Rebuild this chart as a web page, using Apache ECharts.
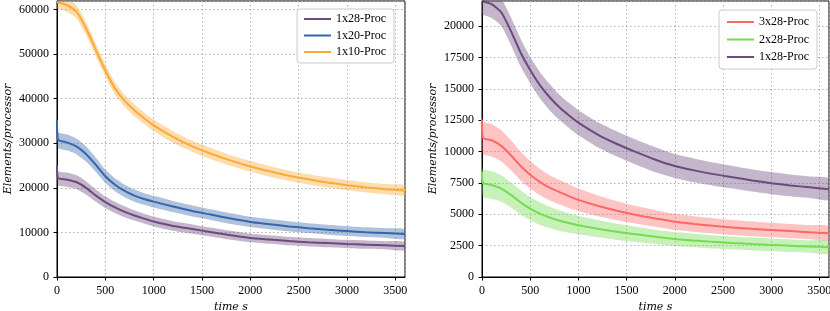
<!DOCTYPE html>
<html>
<head>
<meta charset="utf-8">
<script src="https://cdn.jsdelivr.net/npm/echarts@6/dist/echarts.min.js"></script>
<style>
html,body{margin:0;padding:0;background:#fff;}
#c{width:830px;height:311px;}
</style>
</head>
<body>
<div id="c"></div>
<script>
// time points (s)
const times = [0, 10, 100, 200, 300, 400, 500, 600, 700, 800, 900, 1000,
  1200, 1400, 1600, 1800, 2000, 2200, 2400, 2600, 2800, 3000, 3200, 3400, 3600];

// Left panel: mean curve and half-width of shaded band
const left1x28 = [25100, 22200, 21850, 21300, 20000, 18300, 16800, 15600, 14600, 13800, 13100, 12450,
  11450, 10750, 10050, 9350, 8750, 8400, 8050, 7800, 7600, 7400, 7250, 7100, 6950];
const left1x28Std = [1700, 1600, 1600, 1550, 1500, 1400, 1300, 1250, 1200, 1150, 1100, 1100,
  1050, 1050, 1000, 1000, 950, 950, 950, 950, 950, 930, 930, 930, 930];
const left1x20 = [35200, 30800, 30200, 29300, 27600, 25200, 22600, 20700, 19300, 18250, 17500, 16900,
  15800, 14800, 13950, 13100, 12350, 11850, 11350, 10950, 10600, 10300, 10050, 9850, 9650];
const left1x20Std = [1800, 1800, 1800, 1750, 1700, 1600, 1500, 1450, 1400, 1350, 1300, 1300,
  1250, 1250, 1200, 1200, 1150, 1150, 1150, 1100, 1100, 1100, 1100, 1100, 1100];
const left1x10 = [61700, 61600, 61000, 59500, 55800, 51000, 46300, 42300, 39500, 37400, 35600, 34000,
  31400, 29300, 27600, 26100, 24800, 23700, 22700, 21900, 21200, 20600, 20100, 19700, 19400];
const left1x10Std = [1500, 1500, 1500, 1500, 1450, 1450, 1400, 1400, 1350, 1350, 1300, 1300,
  1300, 1250, 1250, 1200, 1200, 1200, 1150, 1150, 1150, 1150, 1150, 1150, 1150];

// Right panel
const right3x28 = [12540, 11100, 10900, 10450, 9700, 8850, 8150, 7580, 7120, 6780, 6450, 6150,
  5680, 5280, 4950, 4670, 4400, 4230, 4080, 3950, 3840, 3750, 3660, 3570, 3490];
const right3x28Std = [1300, 1300, 1300, 1250, 1200, 1150, 1100, 1050, 1000, 980, 950, 900,
  820, 760, 700, 660, 640, 620, 610, 600, 590, 580, 570, 565, 560];
const right2x28 = [8410, 7500, 7330, 7050, 6550, 5950, 5450, 5050, 4750, 4500, 4300, 4130,
  3850, 3600, 3400, 3200, 3030, 2910, 2800, 2710, 2630, 2560, 2490, 2430, 2370];
const right2x28Std = [1100, 1100, 1100, 1050, 1000, 970, 930, 900, 850, 820, 780, 730,
  690, 650, 610, 570, 550, 540, 530, 520, 515, 510, 505, 500, 500];
const right1x28 = [22050, 21980, 21750, 21100, 19600, 17900, 16500, 15300, 14350, 13550, 12900, 12300,
  11350, 10600, 9950, 9350, 8850, 8500, 8200, 7950, 7700, 7480, 7300, 7150, 7000];
const right1x28Std = [1100, 1100, 1100, 1100, 1100, 1100, 1050, 1050, 1050, 1000, 1000, 1000,
  1000, 1000, 1000, 1000, 950, 950, 920, 900, 890, 880, 870, 860, 850];

const leftNames = ['1x28-Proc', '1x20-Proc', '1x10-Proc'];
const rightNames = ['3x28-Proc', '2x28-Proc', '1x28-Proc'];

const C = {purple: '#6b4a7d', blue: '#3566a9', orange: '#fbaa36', red: '#fc6868', green: '#72dd50'};
const FONT = 'Liberation Serif';
const NAMEFONT = 'DejaVu Serif';

function group(name, mean, std, color, ax, key) {
  const bandData = times.map((t, i) => [t, mean[i] - std[i], mean[i] + std[i]]);
  const band = {
    type: 'custom', name: key + '_band', xAxisIndex: ax, yAxisIndex: ax, silent: true, clip: true, z: 1,
    encode: {x: 0, y: [1, 2]},
    data: bandData,
    renderItem: function (params, api) {
      if (params.dataIndex !== 0) return null;
      const up = bandData.map(d => api.coord([d[0], d[2]]));
      const lo = bandData.map(d => api.coord([d[0], d[1]])).reverse();
      return {
        type: 'polygon',
        shape: {points: up.concat(lo), smooth: 0.2},
        style: {fill: color, opacity: 0.4}
      };
    }
  };
  const line = {
    type: 'line', name: name, xAxisIndex: ax, yAxisIndex: ax, symbol: 'none', smooth: 0.2, silent: true, z: 3,
    data: times.map((t, i) => [t, mean[i]]),
    lineStyle: {color: color, width: 2}, itemStyle: {color: color}
  };
  return [band, line];
}

function xAxis(idx) {
  return {
    type: 'value', gridIndex: idx, min: 0, max: 3600, interval: 500,
    name: 'time s', nameLocation: 'middle', nameGap: 23,
    nameTextStyle: {fontFamily: NAMEFONT, fontStyle: 'italic', fontSize: 11, color: '#000'},
    axisLine: {show: true, lineStyle: {color: '#000', width: 1}},
    axisTick: {show: true, length: 3.5, lineStyle: {color: '#000'}},
    axisLabel: {showMaxLabel: false, margin: 8, fontFamily: FONT, fontSize: 12, color: '#000', formatter: v => String(v)},
    splitLine: {show: true, lineStyle: {color: '#b0b0b0', type: [1.5, 2.5], width: 1}}
  };
}
function yAxis(idx, max, interval) {
  return {
    type: 'value', gridIndex: idx, min: 0, max: max, interval: interval,
    name: 'Elements/processor', nameLocation: 'middle', nameGap: 43, nameRotate: 90,
    nameTextStyle: {fontFamily: NAMEFONT, fontStyle: 'italic', fontSize: 11, color: '#000'},
    axisLine: {show: true, lineStyle: {color: '#000', width: 1}},
    axisTick: {show: true, length: 3.5, lineStyle: {color: '#000'}},
    axisLabel: {showMaxLabel: false, margin: 8, fontFamily: FONT, fontSize: 12, color: '#000', formatter: v => String(v)},
    splitLine: {show: true, lineStyle: {color: '#b0b0b0', type: [1.5, 2.5], width: 1}}
  };
}
function legend(names, left, top, gap, pad) {
  return {
    data: names, left: left, top: top, orient: 'vertical', itemGap: gap,
    itemWidth: 27, itemHeight: 2, icon: 'rect', padding: pad,
    backgroundColor: 'rgba(255,255,255,0.85)', borderColor: '#cccccc', borderWidth: 1, borderRadius: 3,
    textStyle: {fontFamily: FONT, fontSize: 12, lineHeight: 12, color: '#000'},
    selectedMode: false
  };
}

const series = [].concat(
  group(leftNames[0], left1x28, left1x28Std, C.purple, 0, 'L28'),
  group(leftNames[1], left1x20, left1x20Std, C.blue, 0, 'L20'),
  group(leftNames[2], left1x10, left1x10Std, C.orange, 0, 'L10'),
  group(rightNames[0], right3x28, right3x28Std, C.red, 1, 'R3'),
  group(rightNames[1], right2x28, right2x28Std, C.green, 1, 'R2'),
  group(rightNames[2], right1x28, right1x28Std, C.purple, 1, 'R1')
);

const chart = echarts.init(document.getElementById('c'), null, {renderer: 'canvas'});
chart.setOption({
  animation: false,
  backgroundColor: '#fff',
  grid: [
    {left: 57, top: 1, width: 348, height: 276, show: true, borderColor: '#000', borderWidth: 1, backgroundColor: 'transparent', containLabel: false, outerBoundsMode: 'none'},
    {left: 482, top: 1, width: 347, height: 276, show: true, borderColor: '#000', borderWidth: 1, backgroundColor: 'transparent', containLabel: false, outerBoundsMode: 'none'}
  ],
  xAxis: [xAxis(0), xAxis(1)],
  yAxis: [yAxis(0, 61900, 10000), yAxis(1, 22000, 2500)],
  legend: [
    legend(leftNames, 297, 9, 4.5, [4, 8, 5, 7]),
    legend(rightNames, 719, 10, 5.5, [6, 8, 6, 8])
  ],
  series: series
});
</script>
</body>
</html>
